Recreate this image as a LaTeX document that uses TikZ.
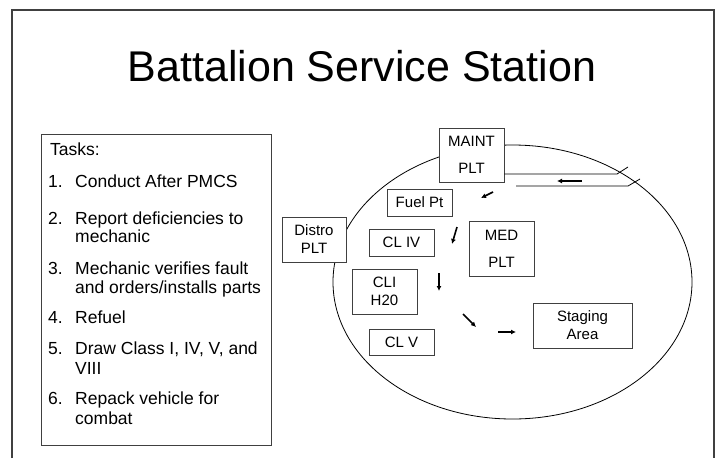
\documentclass[tikz,border=0pt]{standalone}
\usepackage{fontspec}
\setmainfont{Liberation Sans}
\usetikzlibrary{arrows.meta}

\begin{document}
\begin{tikzpicture}[x=1pt, y=-1pt,
    unit/.style = {shape=rectangle, draw=black!75, fill=white,
      line width=0.8pt, align=center, inner sep=0pt,
      minimum width=65pt, font=\fontsize{15}{18}\selectfont},
    task/.style = {anchor=base west, inner sep=0pt,
      font=\fontsize{17.5}{20}\selectfont},
    lane/.style = {line width=0.8pt},
    flow/.style = {line width=1.6pt, -{Latex[length=5pt,width=5pt]}}]
  \useasboundingbox (0,0) rectangle (717,458);
  % slide frame and title
  \draw[line width=1.2pt, black!75] (12,458) -- (12,10) -- (714,10) -- (714,458);
  \node (title) at (362,66) {\fontsize{43}{50}\selectfont Battalion Service Station};
  % task list
  \node[unit, minimum width=230pt, minimum height=311pt] (tasks) at (156,289.5) {};
  \node[task] (t0) at (50,155) {Tasks:};
  \node[task] (n1) at (48,187) {1.};
  \node[task] (t1) at (75,187) {Conduct After PMCS};
  \node[task] (n2) at (48,224) {2.};
  \node[task] (t2a) at (75,224) {Report deficiencies to};
  \node[task] (t2b) at (75,242) {mechanic};
  \node[task] (n3) at (48,274) {3.};
  \node[task] (t3a) at (75,274) {Mechanic verifies fault};
  \node[task] (t3b) at (75,293) {and orders/installs parts};
  \node[task] (n4) at (48,323) {4.};
  \node[task] (t4) at (75,323) {Refuel};
  \node[task] (n5) at (48,354) {5.};
  \node[task] (t5a) at (75,354) {Draw Class I, IV, V, and};
  \node[task] (t5b) at (75,374) {VIII};
  \node[task] (n6) at (48,404) {6.};
  \node[task] (t6a) at (75,404) {Repack vehicle for};
  \node[task] (t6b) at (75,424) {combat};
  % service station area
  \draw[line width=0.8pt] (512.5,282) ellipse [x radius=179.5, y radius=137];
  % entry lanes
  \coordinate (laneA) at (617,174);
  \coordinate (laneAend) at (628,167);
  \coordinate (laneB) at (516,186);
  \coordinate (laneBbend) at (628,186);
  \coordinate (laneBend) at (640,179);
  \node[unit, minimum height=54pt] (maint) at (471.5,155) {MAINT\\[9pt]PLT};
  \draw[lane] (maint.east |- laneA) -- (laneA) -- (laneAend);
  \draw[lane] (laneB) -- (laneBbend) -- (laneBend);
  % stations
  \node[unit, minimum width=64pt, minimum height=45pt] (distro) at (314,239.5) {Distro\\PLT};
  \node[unit, minimum height=27pt] (fuel) at (419.5,202.5) {Fuel Pt};
  \node[unit, minimum height=27pt] (cliv) at (401.5,242.5) {CL IV};
  \node[unit, minimum height=55pt] (med) at (501.5,248.5) {MED\\[9pt]PLT};
  \node[unit, minimum height=45pt] (cli) at (384.5,291.5) {CLI\\H20};
  \node[unit, minimum height=26pt] (clv) at (401.5,342) {CL V};
  \node[unit, minimum width=99pt, minimum height=45pt] (staging) at (582.5,325.5) {Staging\\Area};
  % flow arrows
  \foreach \n/\sx/\sy/\ex/\ey in {1/582/181/557/181, 2/493/192/481/198,
      3/457/227/452/244, 4/439/273/439/291, 5/463/314/476/327, 6/498/332/516/332}{
    \coordinate (f\n s) at (\sx,\sy);
    \coordinate (f\n e) at (\ex,\ey);
    \draw[flow] (f\n s) -- (f\n e);
  }
\end{tikzpicture}
\end{document}
